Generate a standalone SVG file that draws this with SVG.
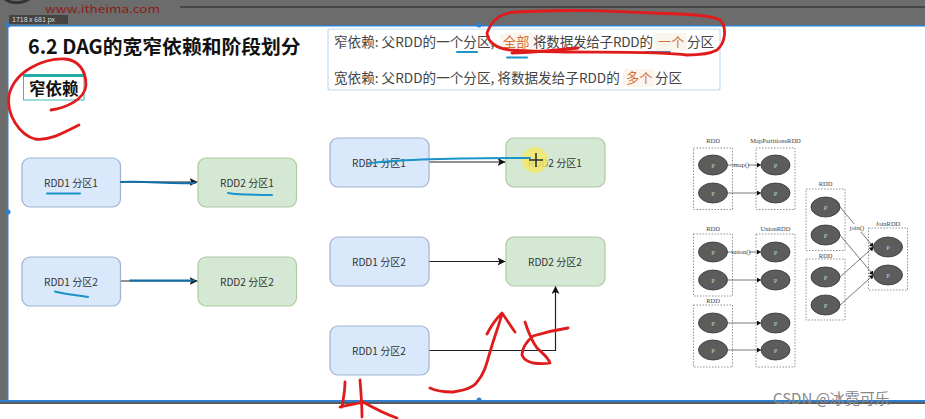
<svg xmlns="http://www.w3.org/2000/svg" width="925" height="419" viewBox="0 0 925 419">
<defs>
<marker id="a" markerWidth="9" markerHeight="8" refX="8" refY="4" orient="auto" markerUnits="userSpaceOnUse"><path d="M0 0L8 4L0 8L2 4Z" fill="#111"/></marker>
<marker id="s" markerWidth="5" markerHeight="5" refX="4" refY="2.5" orient="auto" markerUnits="userSpaceOnUse"><path d="M0 0L4 2.5L0 5Z" fill="#111"/></marker>
<g id="e"><ellipse cx="0" cy="0" rx="14.500" ry="10" fill="#5c5c5c" stroke="#333" stroke-width="0.800"/><text x="0" y="2.500" class="sp">P</text></g>
</defs>
<style>
text{font-family:"Noto Sans CJK SC","Liberation Sans",sans-serif}
.b{fill:#dae8fc;stroke:#9fb3cf;stroke-width:1.200}
.g{fill:#d5e8d4;stroke:#b0c8a4;stroke-width:1.200}
.t{font-size:10.100px;fill:#333;text-anchor:middle}
.c{stroke:#222;stroke-width:1.200;fill:none}
.h{font-size:13.600px;fill:#444}
.o{font-size:13.200px;fill:#d2703a}
.bg{fill:#faf6ee}
.red{fill:none;stroke:#e01b1b;stroke-width:2.800;stroke-linecap:round;stroke-linejoin:round}
.blue{fill:none;stroke:#1a93c9;stroke-width:2;stroke-linecap:round}
.dk{fill:none;stroke:#0f6fa8;stroke-width:2;stroke-linecap:round}
.d{fill:none;stroke:#777;stroke-width:0.800;stroke-dasharray:1.500 1.500}
.m{font-family:"Liberation Serif",serif;font-size:6.500px;fill:#444;text-anchor:middle}
.sp{font-family:"Liberation Serif",serif;font-size:6.500px;fill:#ccc;text-anchor:middle}
.l{stroke:#555;stroke-width:0.800;fill:none}
</style>
<rect width="925" height="419" fill="#fff"/>
<g id="chrome">
<rect x="0" y="0" width="925" height="25" fill="#6c6c6c"/>
<rect x="0" y="0" width="8" height="419" fill="#6c6c6c"/>
<rect x="0" y="404" width="925" height="15" fill="#fff"/>
<rect x="0" y="400" width="925" height="4" fill="#5b5b5b"/>
<rect x="0" y="400" width="925" height="2" fill="#2f7fd0"/>
<rect x="8" y="25" width="917" height="1.500" fill="#2f7fd0"/>
<rect x="7" y="25" width="1.500" height="377" fill="#2f7fd0"/>
<circle cx="8" cy="25" r="2.500" fill="#2f7fd0"/><circle cx="8" cy="212" r="2.500" fill="#2f7fd0"/><circle cx="479" cy="25" r="2.500" fill="#2f7fd0"/><circle cx="479" cy="400" r="2.500" fill="#2f7fd0"/>
<path d="M2 -6C4 4 24 6 32 -4" fill="none" stroke="#333" stroke-width="3"/>
<text x="45" y="13" font-size="11" textLength="115" lengthAdjust="spacingAndGlyphs" fill="#8c1a1a" font-family="Liberation Sans, sans-serif">www.itheima.com</text>
<path d="M180 7H925" stroke="#222" stroke-width="1.200"/>
<rect x="9" y="15" width="59" height="9" fill="#444"/>
<text x="12" y="22" font-size="7" fill="#ddd" font-family="Liberation Sans, sans-serif">1718 x 681  px</text>
</g>
<g id="title"><text x="28" y="54" font-size="19.800" font-weight="700" fill="#111">6.2 DAG的宽窄依赖和阶段划分</text></g>
<g id="tag"><rect x="23.500" y="75" width="60.500" height="25" fill="#fff" stroke="#3fb8b4" stroke-width="1"/><rect x="23" y="74" width="61" height="3" fill="#22aca8"/><text x="29" y="94.500" font-size="16.500" font-weight="700" fill="#111">窄依赖</text></g>
<g id="note">
<rect x="328" y="29" width="392" height="61" rx="2" fill="#fff" stroke="#c3daf3" stroke-width="1.200"/>
<rect x="500" y="33" width="41" height="18" rx="3" class="bg"/><rect x="654" y="33" width="33" height="18" rx="3" class="bg"/><rect x="623" y="69" width="32" height="18" rx="3" class="bg"/>
<text x="334" y="47" class="h">窄依赖: 父RDD的一个分区,</text><text x="503" y="47" class="o">全部</text><text x="533" y="47" class="h" textLength="120">将数据发给子RDD的</text><text x="658" y="47" class="o">一个</text><text x="687" y="47" class="h">分区</text>
<text x="334" y="83" class="h">宽依赖: 父RDD的一个分区, 将数据发给子RDD的</text><text x="626" y="83" class="o">多个</text><text x="655" y="83" class="h">分区</text>
</g>
<g id="connectors">
<path class="c" marker-end="url(#a)" d="M120.500 182H197.500"/><path class="c" marker-end="url(#a)" d="M120.500 281H197.500"/>
<path class="c" marker-end="url(#a)" d="M429 162H505.500"/><path class="c" marker-end="url(#a)" d="M429 261.500H505.500"/><path class="c" marker-end="url(#a)" d="M429 350.500H555.500V286"/>
</g>
<g id="n1"><rect class="b" x="22" y="158" width="98.500" height="49" rx="8"/><text class="t" x="71" y="186.500">RDD1 分区1</text></g>
<g id="n2"><rect class="g" x="198" y="158" width="98.500" height="49" rx="8"/><text class="t" x="247" y="186.500">RDD2 分区1</text></g>
<g id="n3"><rect class="b" x="22" y="257" width="98.500" height="49" rx="8"/><text class="t" x="71" y="285.500">RDD1 分区2</text></g>
<g id="n4"><rect class="g" x="198" y="257" width="98.500" height="49" rx="8"/><text class="t" x="247" y="285.500">RDD2 分区2</text></g>
<g id="n5"><rect class="b" x="330" y="138" width="99" height="49" rx="8"/><text class="t" x="379" y="166.500">RDD1 分区1</text></g>
<g id="n6"><rect class="g" x="506" y="138" width="99" height="49" rx="8"/><text class="t" x="555" y="166.500">RDD2 分区1</text></g>
<g id="n7"><rect class="b" x="330" y="237" width="99" height="49" rx="8"/><text class="t" x="379" y="265.500">RDD1 分区2</text></g>
<g id="n8"><rect class="g" x="506" y="237" width="99" height="49" rx="8"/><text class="t" x="555" y="265.500">RDD2 分区2</text></g>
<g id="n9"><rect class="b" x="330" y="326" width="99" height="49" rx="8"/><text class="t" x="379" y="354.500">RDD1 分区2</text></g>
<g id="figure">
<rect class="d" x="693.500" y="148" width="39" height="61.500"/><rect class="d" x="756" y="148" width="39" height="61.500"/>
<rect class="d" x="693.500" y="234" width="39" height="62"/><rect class="d" x="756" y="234" width="39" height="133"/><rect class="d" x="693.500" y="305" width="39" height="62"/>
<rect class="d" x="806" y="189" width="39" height="61.500"/><rect class="d" x="806" y="259" width="39" height="61"/><rect class="d" x="868.500" y="228" width="39" height="62"/>
<text class="m" x="713" y="143">RDD</text><text class="m" x="775.500" y="143">MapPartitionsRDD</text><text class="m" x="713" y="231">RDD</text><text class="m" x="775.500" y="231">UnionRDD</text><text class="m" x="713" y="303">RDD</text><text class="m" x="825.500" y="186">RDD</text><text class="m" x="825.500" y="258">RDD</text><text class="m" x="888" y="226">JoinRDD</text>
<g class="l" style="stroke-width:.8">
<path marker-end="url(#s)" d="M727.500 165H761"/><path marker-end="url(#s)" d="M727.500 193H761"/><path marker-end="url(#s)" d="M727.500 252H761"/><path marker-end="url(#s)" d="M727.500 280H761"/><path marker-end="url(#s)" d="M727.500 323H761"/><path marker-end="url(#s)" d="M727.500 350H761"/>
<path marker-end="url(#s)" d="M840 207L873.500 247"/><path marker-end="url(#s)" d="M840 235L873.500 275"/><path marker-end="url(#s)" d="M840 277L873.500 247"/><path marker-end="url(#s)" d="M840 305L873.500 275"/>
</g>
<rect x="735" y="161" width="13" height="8" fill="#fff"/><text class="m" x="741.500" y="167">map()</text>
<rect x="733" y="248" width="16" height="8" fill="#fff"/><text class="m" x="741" y="254">union()</text>
<rect x="850" y="224" width="15" height="8" fill="#fff"/><text class="m" x="857" y="230">join()</text>
<use href="#e" x="713" y="165"/><use href="#e" x="775.500" y="165"/><use href="#e" x="713" y="193"/><use href="#e" x="775.500" y="193"/>
<use href="#e" x="713" y="252"/><use href="#e" x="775.500" y="252"/><use href="#e" x="713" y="280"/><use href="#e" x="775.500" y="280"/>
<use href="#e" x="713" y="323"/><use href="#e" x="775.500" y="323"/><use href="#e" x="713" y="350"/><use href="#e" x="775.500" y="350"/>
<use href="#e" x="825.500" y="207"/><use href="#e" x="825.500" y="235"/><use href="#e" x="825.500" y="277"/><use href="#e" x="825.500" y="305"/>
<use href="#e" x="888" y="247"/><use href="#e" x="888" y="275"/>
</g>
<g id="annotations">
<circle cx="535" cy="160" r="13" fill="#f3e76a" opacity=".85"/>
<path d="M536 153V167M529 160H543" stroke="#333" stroke-width="1.600"/>
<path class="blue" d="M47 193.500H80M228 193C240 195 255 195 272 195M55 291.500C65 294 75 295 88 297"/>
<path class="dk" d="M121 182C150 181 165 184 195 183M130 280.500H194"/>
<path class="blue" d="M368 163.500C400 159 450 158 530 158"/>
<path class="blue" d="M457 52H477M507 57.500H527"/>
<path class="dk" d="M645 52H670" style="stroke:#2f4f8f;stroke-width:1.500"/>
<path class="red" d="M51 110C65 108 85 100 86 85C86 70 78 60 65 59C45 58 15 70 9 95C6 115 20 135 35 139C50 141 65 132 79 125"/>
<path class="red" d="M487 33C492 20 500 13 515 12C570 9 610 11 653 13C685 14 712 15 720 20C727 27 726 42 717 50C708 55 695 55 687 55C650 50 560 54 510 50C495 48 488 42 487 33Z"/>
<path class="red" d="M512 53C535 52 560 50 578 48"/>
<path class="red" d="M430 388C438 392 446 392 453 392C466 390 474 387 477 382C485 373 487 362 490 352C495 335 499 325 502 314M487 334C491 326 497 318 502 313C507 320 510 325 515 332"/>
<path class="red" d="M568 328C555 330 543 333 533 336C526 342 522 348 522 355C524 360 528 362 533 363C540 364 545 364 550 363C548 357 542 353 537 348C531 340 528 331 525 322"/>
<path class="red" d="M345 382C345 392 343 400 342 407M360 380C361 392 362 405 362 417M340 407C348 405 356 404 363 402C372 407 385 414 397 418"/>
</g>
<g id="watermark"><text x="773" y="404" font-size="15" fill="#888" font-family="Liberation Sans, Noto Sans CJK SC, sans-serif">CSDN @冰霓可乐</text></g>
</svg>
